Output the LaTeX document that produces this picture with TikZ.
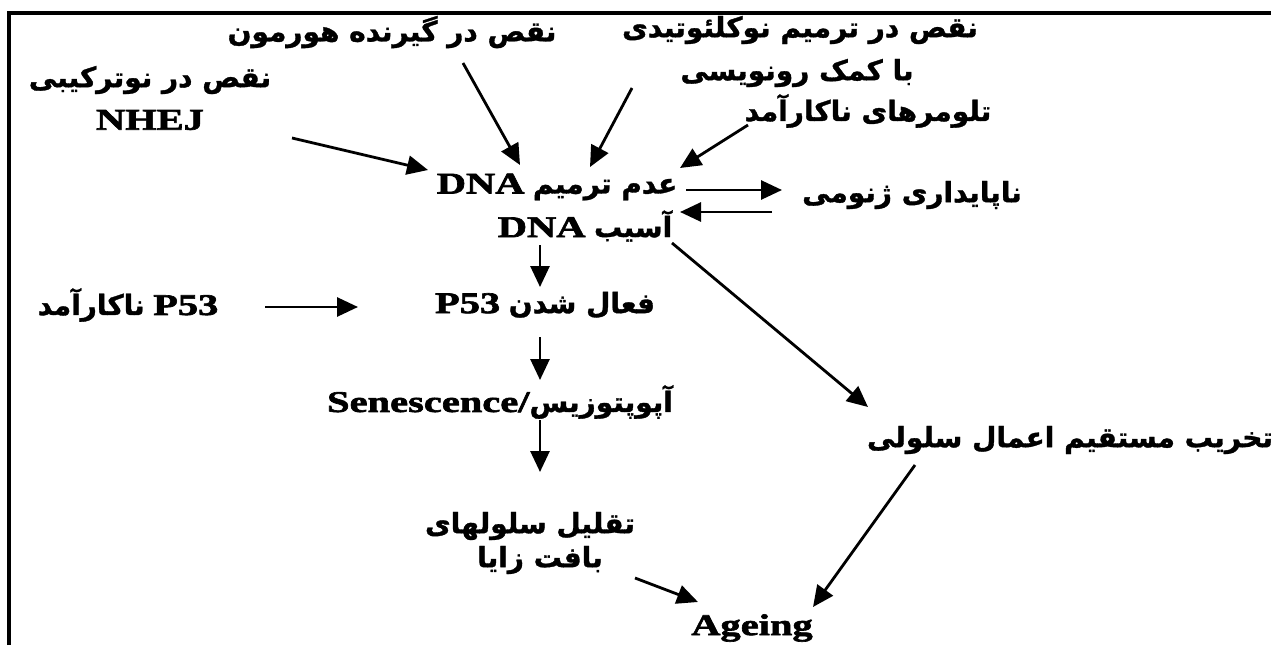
\documentclass[tikz,border=0pt]{standalone}
\usepackage{fontspec}
\TeXXeTstate=1
\newfontfamily\fa[Script=Arabic,FakeBold=1.2]{DejaVu Sans Bold}
\newfontfamily\lat[FakeStretch=1.35,FakeBold=2.2]{Liberation Serif Bold}
\usetikzlibrary{arrows.meta}
\tikzset{
  txt/.style={inner sep=0pt, anchor=center, font=\fontsize{28}{32}\selectfont},
  lt/.style={inner sep=0pt, anchor=center, font=\fontsize{30}{34}\selectfont\lat},
  arr/.style={line width=2.8pt, -{Triangle[length=21pt,width=19pt]}},
  frame/.style={line width=3.5pt}
}
\newcommand\ltx[1]{{\lat\fontsize{30}{34}\selectfont #1}}
\begin{document}
\begin{tikzpicture}[x=1pt,y=-1pt]
\useasboundingbox (0,0) rectangle (1271,645);
\fill[white] (0,0) rectangle (1271,645);
% frame
\coordinate (f1) at (9,645);
\coordinate (f2) at (9,13);
\coordinate (f3) at (1271,13);
\draw[frame] (f1) -- (f2) -- (f3);

% texts
\node[txt] (hormone) at (392,32) {\fa\beginR نقص در گیرنده هورمون\endR};
\node[txt] (nucl1) at (800,30) {\fa\beginR نقص در ترمیم نوکلئوتیدی\endR};
\node[txt] (nucl2) at (797,73) {\fa\beginR با کمک رونویسی\endR};
\node[txt] (telo) at (868,111) {\fa\beginR تلومرهای ناکارآمد\endR};
\node[txt] (nhej1) at (150,80) {\fa\beginR نقص در نوترکیبی\endR};
\node[lt] (nhej2) at (150,120) {NHEJ};
\node[txt] (repair) at (557,187) {\ltx{DNA}\ {\fa\beginR عدم ترمیم\endR}};
\node[txt] (damage) at (585,226) {\ltx{DNA}\ {\fa\beginR آسیب\endR}};
\node[txt] (genome) at (912,195) {\fa\beginR ناپایداری ژنومی\endR};
\node[txt] (p53bad) at (128,305) {{\fa\beginR ناکارآمد\endR}\ \ltx{P53}};
\node[txt] (p53act) at (545,305) {\ltx{P53}\ {\fa\beginR فعال شدن\endR}};
\node[txt] (senes) at (500,402) {\ltx{Senescence/}{\fa\beginR آپوپتوزیس\endR}};
\node[txt] (destroy) at (1070,440) {\fa\beginR تخریب مستقیم اعمال سلولی\endR};
\node[txt] (reduce1) at (530,526) {\fa\beginR تقلیل سلولهای\endR};
\node[txt] (reduce2) at (540,560) {\fa\beginR بافت زایا\endR};
\node[lt] (ageing) at (752,628) {Ageing};

% arrow end points
\coordinate (a1s) at (292,138); \coordinate (a1e) at (428,170);
\coordinate (a2s) at (463,63);  \coordinate (a2e) at (520,165);
\coordinate (a3s) at (632,88);  \coordinate (a3e) at (590,167);
\coordinate (a4s) at (748,125); \coordinate (a4e) at (680,168);
\coordinate (a5s) at (686,190); \coordinate (a5e) at (782,190);
\coordinate (a6s) at (772,212); \coordinate (a6e) at (680,212);
\coordinate (a7s) at (540,245); \coordinate (a7e) at (540,287);
\coordinate (a8s) at (265,307); \coordinate (a8e) at (358,307);
\coordinate (a9s) at (540,337); \coordinate (a9e) at (540,380);
\coordinate (a10s) at (540,420); \coordinate (a10e) at (540,472);
\coordinate (a11s) at (672,243); \coordinate (a11e) at (868,407);
\coordinate (a12s) at (915,465); \coordinate (a12e) at (813,607);
\coordinate (a13s) at (635,578); \coordinate (a13e) at (698,602);

\draw[arr] (a1s) -- (a1e);
\draw[arr] (a2s) -- (a2e);
\draw[arr] (a3s) -- (a3e);
\draw[arr] (a4s) -- (a4e);
\draw[arr] (a5s) -- (a5e);
\draw[arr] (a6s) -- (a6e);
\draw[arr] (a7s) -- (a7e);
\draw[arr] (a8s) -- (a8e);
\draw[arr] (a9s) -- (a9e);
\draw[arr] (a10s) -- (a10e);
\draw[arr] (a11s) -- (a11e);
\draw[arr] (a12s) -- (a12e);
\draw[arr] (a13s) -- (a13e);
\end{tikzpicture}
\end{document}
